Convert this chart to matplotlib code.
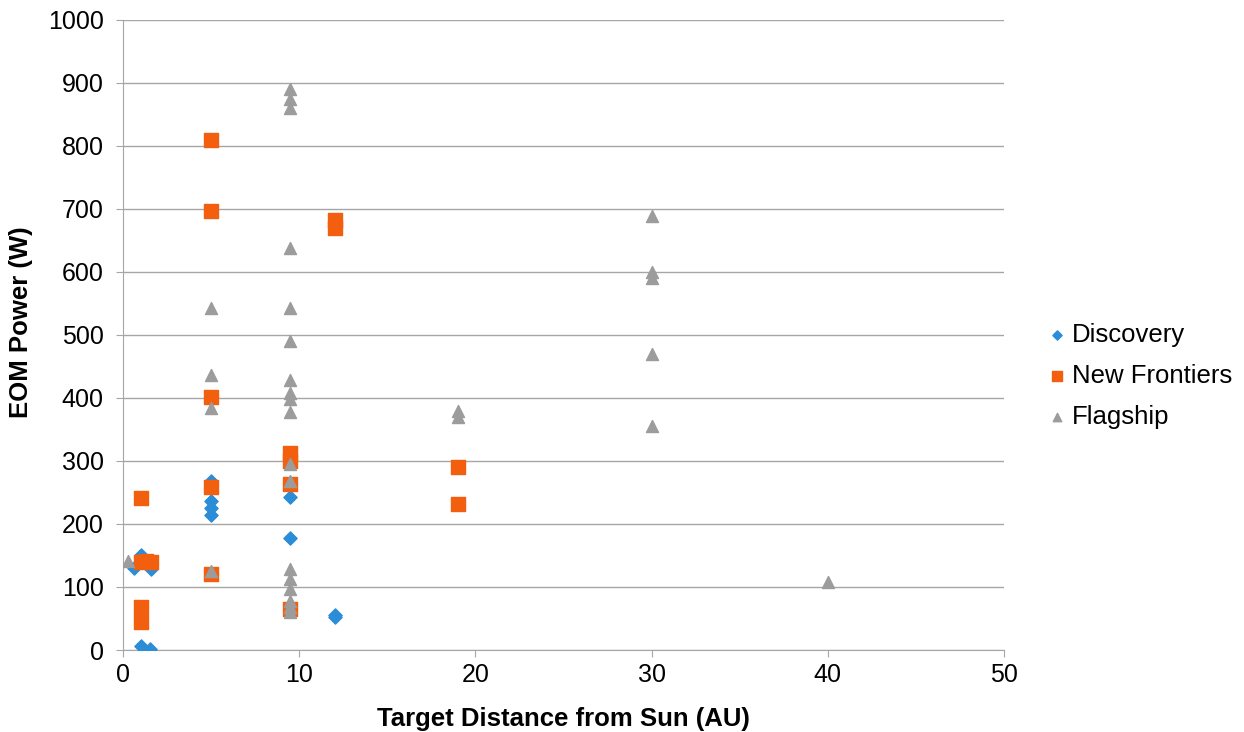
import matplotlib.pyplot as plt

plt.rcParams['font.family'] = ['Liberation Sans', 'DejaVu Sans']

# Discovery
disc_x = [0.6, 1.0, 1.6, 1.0, 1.5, 5, 5, 5, 5, 9.5, 9.5, 12, 12]
disc_y = [130, 150, 128, 6, 1, 268, 237, 225, 214, 243, 178, 52, 55]

# New Frontiers
nf_x = [1.0, 1.0, 1.3, 1.6, 1.0, 1.0, 5, 5, 5, 5, 5, 9.5, 9.5, 9.5, 9.5, 12, 12, 19, 19]
nf_y = [241, 140, 141, 140, 69, 45, 810, 696, 401, 258, 121, 312, 300, 264, 65, 682, 669, 290, 232]

# Flagship
fl_x = [0.3, 5, 5, 5, 5,
        9.5, 9.5, 9.5, 9.5, 9.5, 9.5, 9.5, 9.5, 9.5, 9.5, 9.5, 9.5,
        9.5, 9.5, 9.5, 9.5, 9.5, 9.5,
        19, 19, 30, 30, 30, 30, 30, 40]
fl_y = [142, 542, 437, 384, 125,
        890, 875, 860, 638, 543, 490, 428, 408, 398, 378, 295, 268,
        128, 112, 97, 78, 68, 60,
        380, 370, 688, 600, 590, 470, 355, 108]

fig = plt.figure(figsize=(12.44, 7.32), dpi=100)
ax = fig.add_axes([0.099, 0.112, 0.708, 0.861])

ax.scatter(disc_x, disc_y, marker='D', s=45, color='#2B8CD8', label='Discovery', zorder=3)
ax.scatter(nf_x, nf_y, marker='s', s=100, color='#F2600F', label='New Frontiers', zorder=3)
ax.scatter(fl_x, fl_y, marker='^', s=75, color='#9C9C9C', label='Flagship', zorder=3)

ax.set_xlim(0, 50)
ax.set_ylim(0, 1000)
ax.set_xticks(range(0, 51, 10))
ax.set_yticks(range(0, 1001, 100))
ax.yaxis.grid(True, color='#A6A6A6', linewidth=1)
ax.set_axisbelow(True)
for s in ['top', 'right']:
    ax.spines[s].set_visible(False)
for s in ['left', 'bottom']:
    ax.spines[s].set_color('#A6A6A6')
ax.tick_params(axis='both', labelsize=18, length=5, color='#A6A6A6', direction='out')
ax.tick_params(axis='y', pad=9)
ax.tick_params(axis='x', pad=4)

ax.set_xlabel('Target Distance from Sun (AU)', fontsize=18.5, fontweight='bold', labelpad=15)
ax.set_ylabel('EOM Power (W)', fontsize=18.5, fontweight='bold')
ax.yaxis.set_label_coords(-0.102, 0.52)

ax.legend(loc='center left', bbox_to_anchor=(1.016, 0.435), frameon=False,
          fontsize=18.5, handletextpad=0.0, labelspacing=0.67, markerscale=0.7,
          handlelength=1.2)

fig.savefig('out.png', dpi=100)
